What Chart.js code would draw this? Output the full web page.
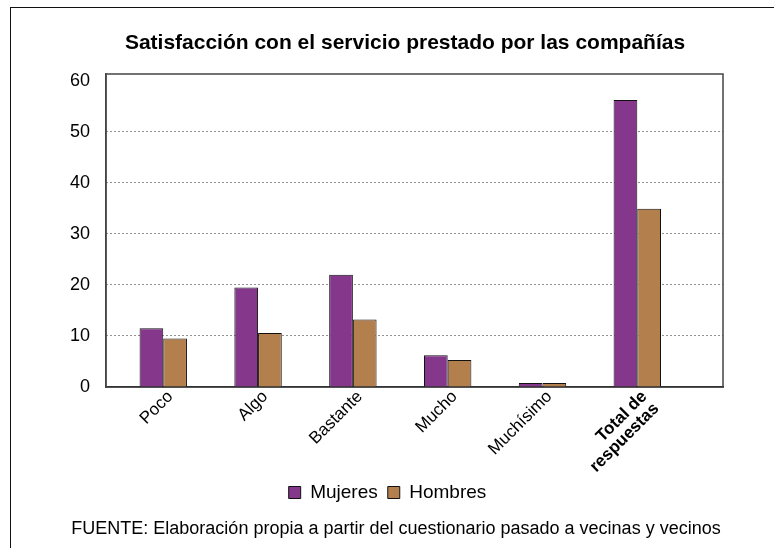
<!DOCTYPE html>
<html>
<head>
<meta charset="utf-8">
<script src="https://cdn.jsdelivr.net/npm/chart.js@4.4.1/dist/chart.umd.min.js"></script>
<style>
  html, body { margin: 0; padding: 0; background: #fff; overflow: hidden; }
  #wrap { position: relative; width: 774px; height: 548px; overflow: hidden; }
  #frame { position: absolute; left: 10px; top: 7px; width: 800px; height: 600px; border: 1.5px solid #111; }
  #grafico { position: absolute; left: 0; top: 0; }
  .txt { position: absolute; font-family: Arial, 'Liberation Sans', sans-serif; color: #000; white-space: nowrap; text-align: center; }
  #titulo { left: 0; width: 810px; top: 30px; font-size: 21px; font-weight: bold; }
  #fuente { left: 0; width: 792px; top: 518px; font-size: 18px; }
</style>
</head>
<body>
<div id="wrap">
  <div id="frame"></div>
  <canvas id="grafico" width="774" height="548"></canvas>
  <div class="txt" id="titulo">Satisfacción con el servicio prestado por las compañías</div>
  <div class="txt" id="fuente">FUENTE: Elaboración propia a partir del cuestionario pasado a vecinas y vecinos</div>
</div>
<script>
// datos
var categorias = ['Poco', 'Algo', 'Bastante', 'Mucho', 'Muchísimo', ['Total de', 'respuestas']];
var mujeres = [11.5, 19.5, 22.0, 6.2, 0.8, 56.2];
var hombres = [9.5, 10.6, 13.2, 5.3, 0.8, 34.9];
var yTicks = [0, 10, 20, 30, 40, 50, 60];

Chart.defaults.font.family = "Arial, 'Liberation Sans', sans-serif";
Chart.defaults.color = '#000';

function toPoints(values) {
    return values.map(function(v, i) { return {x: i, y: v}; });
}

// marco del area de trazado
var marcoPlugin = {
    id: 'marco',
    beforeDatasetsDraw: function(chart) {
        var a = chart.chartArea;
        var ctx = chart.ctx;
        ctx.save();
        ctx.strokeStyle = '#444';
        ctx.lineWidth = 1.5;
        ctx.strokeRect(a.left, a.top, a.right - a.left, a.bottom - a.top);
        ctx.restore();
    }
};

var ctx = document.getElementById('grafico');
var chart = new Chart(ctx, {
    type: 'bar',
    data: {
        datasets: [{
            label: 'Mujeres',
            data: toPoints(mujeres),
            backgroundColor: '#84378B',
            borderColor: '#111',
            borderWidth: 1
        }, {
            label: 'Hombres',
            data: toPoints(hombres),
            backgroundColor: '#B3804D',
            borderColor: '#111',
            borderWidth: 1
        }]
    },
    options: {
        responsive: false,
        animation: false,
        categoryPercentage: 0.5,
        barPercentage: 1.0,
        layout: {
            padding: {left: 52, right: 51, top: 74, bottom: 36}
        },
        scales: {
            x: {
                type: 'linear',
                offset: false,
                min: -0.604,
                max: 5.904,
                afterBuildTicks: function(s) {
                    s.ticks = categorias.map(function(c, i) { return {value: i}; });
                },
                afterFit: function(s) { s.height = 86; },
                grid: {display: false, drawTicks: false},
                border: {display: true, color: '#000', width: 1.5},
                ticks: {
                    autoSkip: false,
                    maxRotation: 45,
                    minRotation: 45,
                    padding: 1,
                    labelOffset: 7,
                    color: '#000',
                    font: function(c) {
                        return {size: 17, weight: c.index === 5 ? 'bold' : 'normal', lineHeight: 1.0};
                    },
                    callback: function(v) { return categorias[v]; }
                }
            },
            y: {
                min: 0,
                max: 61.3,
                afterBuildTicks: function(s) {
                    s.ticks = yTicks.map(function(v) { return {value: v}; });
                },
                afterFit: function(s) { s.width = 54; },
                grid: {
                    drawTicks: false,
                    lineWidth: 1,
                    color: function(c) {
                        if (c.tick && (c.tick.value === 0 || c.tick.value === 60)) return 'rgba(0,0,0,0)';
                        return '#222';
                    }
                },
                border: {display: true, color: '#444', width: 1.5, dash: [1, 3]},
                ticks: {
                    padding: 16,
                    color: '#000',
                    font: {size: 18}
                }
            }
        },
        plugins: {
            legend: {
                position: 'bottom',
                labels: {
                    boxWidth: 12,
                    boxHeight: 12,
                    padding: 10,
                    color: '#000',
                    font: {size: 19}
                }
            },
            title: {display: false},
            tooltip: {enabled: false}
        }
    },
    plugins: [marcoPlugin]
});
</script>
</body>
</html>
